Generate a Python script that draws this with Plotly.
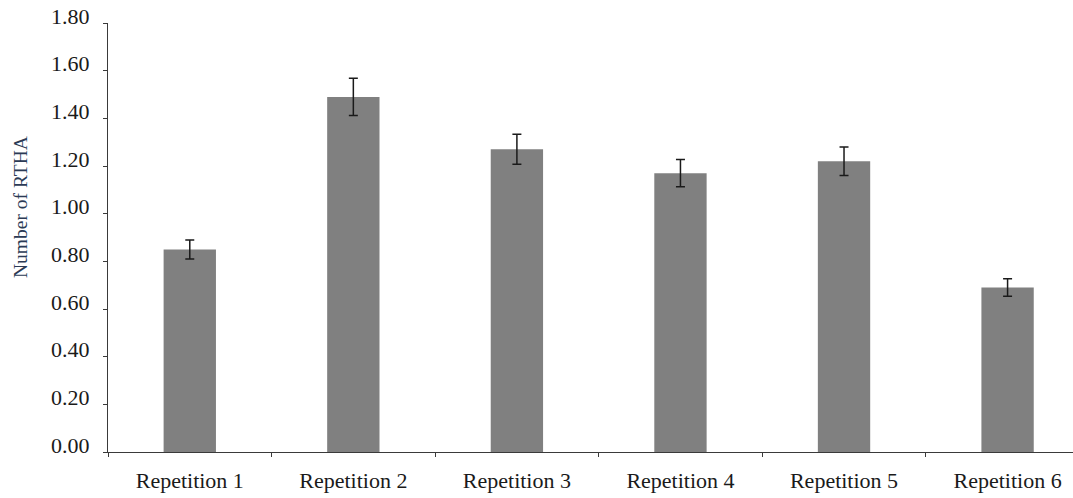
import plotly.graph_objects as go

# Mean number of RTHA per repetition, with error bar half-widths
categories = ["Repetition 1", "Repetition 2", "Repetition 3",
              "Repetition 4", "Repetition 5", "Repetition 6"]
means = [0.85, 1.49, 1.27, 1.17, 1.22, 0.69]
errors = [0.04, 0.078, 0.063, 0.057, 0.06, 0.037]
y_ticks = [0.0, 0.2, 0.4, 0.6, 0.8, 1.0, 1.2, 1.4, 1.6, 1.8]

serif = "Liberation Serif, Times New Roman, serif"
ink = "#1a1a1a"
axis_col = "#3a3a3a"

fig = go.Figure(
    go.Bar(
        x=categories,
        y=means,
        width=0.32,
        marker=dict(color="#808080", line=dict(width=0)),
        error_y=dict(type="data", array=errors, visible=True,
                     color=ink, thickness=1.5, width=4.5),
    )
)

fig.update_layout(
    width=1073,
    height=498,
    margin=dict(l=108, r=0, t=23, b=46),
    paper_bgcolor="white",
    plot_bgcolor="white",
    showlegend=False,
    font=dict(family=serif, size=22, color=ink),
)

fig.update_xaxes(
    range=[-0.5, 5.4],
    showline=True, linecolor=axis_col, linewidth=1,
    ticks="outside", tickson="boundaries", ticklen=4, tickcolor=axis_col,
    ticklabelstandoff=9,
    showgrid=False, zeroline=False,
    tickfont=dict(family=serif, size=22, color=ink),
)

fig.update_yaxes(
    range=[0, 1.8],
    tickvals=y_ticks,
    ticktext=[f"{v:.2f}" for v in y_ticks],
    showline=True, linecolor=axis_col, linewidth=1,
    ticks="outside", ticklen=4, tickcolor=axis_col,
    ticklabelstandoff=9, ticklabelshift=-7,
    showgrid=False, zeroline=False,
    tickfont=dict(family=serif, size=22, color=ink),
)

# Axis title placed as rotated text, sitting a little above the plot's middle
fig.add_annotation(
    text="Number of RTHA",
    textangle=-90,
    xref="paper", yref="paper",
    x=-88 / 965, y=(452 - 207) / 429,
    xanchor="center", yanchor="middle",
    showarrow=False,
    font=dict(family=serif, size=19.5, color="#2b3a55"),
)

fig.write_html("out.html")
